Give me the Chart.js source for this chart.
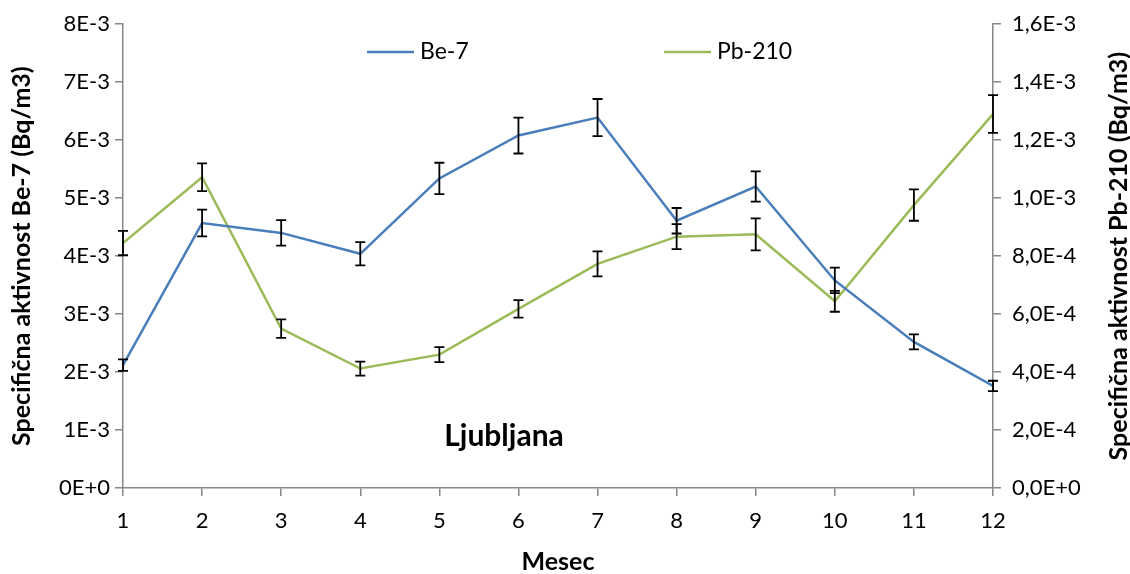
<!DOCTYPE html>
<html>
<head>
<meta charset="utf-8">
<script src="https://cdn.jsdelivr.net/npm/chart.js@4/dist/chart.umd.min.js"></script>
<style>
  html, body { margin: 0; padding: 0; background: #fff; }
  #wrap { width: 1130px; height: 574px; }
</style>
</head>
<body>
<div id="wrap"><canvas id="chart" width="1130" height="574"></canvas></div>
<script>
const months = [1, 2, 3, 4, 5, 6, 7, 8, 9, 10, 11, 12];
const be7 = [2.12e-3, 4.57e-3, 4.40e-3, 4.04e-3, 5.34e-3, 6.08e-3, 6.39e-3, 4.61e-3, 5.20e-3, 3.58e-3, 2.52e-3, 1.76e-3];
const be7Err = [0.10e-3, 0.23e-3, 0.22e-3, 0.20e-3, 0.27e-3, 0.31e-3, 0.32e-3, 0.22e-3, 0.26e-3, 0.22e-3, 0.13e-3, 0.09e-3];
const pb210 = [8.45e-4, 10.72e-4, 5.50e-4, 4.12e-4, 4.60e-4, 6.18e-4, 7.73e-4, 8.67e-4, 8.75e-4, 6.44e-4, 9.76e-4, 12.9e-4];
const pb210Err = [0.42e-4, 0.48e-4, 0.32e-4, 0.24e-4, 0.26e-4, 0.30e-4, 0.43e-4, 0.43e-4, 0.55e-4, 0.36e-4, 0.54e-4, 0.65e-4];

const FONT = "Lato, 'Liberation Sans', sans-serif";
const AXIS_GREY = "#868686";

// error bars drawn through the dataset's own y scale
const errorBars = {
  id: "errorBars",
  afterDatasetsDraw(chart) {
    const ctx = chart.ctx;
    const xScale = chart.scales.x;
    chart.data.datasets.forEach((ds) => {
      const yScale = chart.scales[ds.yAxisID];
      ctx.save();
      ctx.strokeStyle = "#000";
      ctx.lineWidth = 1.8;
      ds.data.forEach((pt, i) => {
        const err = ds.errors[i];
        const x = xScale.getPixelForValue(pt.x);
        const yTop = yScale.getPixelForValue(pt.y + err);
        const yBot = yScale.getPixelForValue(pt.y - err);
        ctx.beginPath();
        ctx.moveTo(x, yTop);
        ctx.lineTo(x, yBot);
        ctx.moveTo(x - 5, yTop);
        ctx.lineTo(x + 5, yTop);
        ctx.moveTo(x - 5, yBot);
        ctx.lineTo(x + 5, yBot);
        ctx.stroke();
      });
      ctx.restore();
    });
  },
};

// legend, inner label and right axis title
const extras = {
  id: "extras",
  afterDraw(chart) {
    const ctx = chart.ctx;
    const area = chart.chartArea;
    ctx.save();
    ctx.textBaseline = "middle";
    ctx.font = "23px " + FONT;
    ctx.fillStyle = "#000";

    const items = [
      { ds: chart.data.datasets[0], x: area.left + 244 },
      { ds: chart.data.datasets[1], x: area.left + 541 },
    ];
    items.forEach((it) => {
      ctx.strokeStyle = it.ds.borderColor;
      ctx.lineWidth = 2.5;
      ctx.beginPath();
      ctx.moveTo(it.x, 52);
      ctx.lineTo(it.x + 47, 52);
      ctx.stroke();
      ctx.textAlign = "left";
      ctx.fillText(it.ds.label, it.x + 53, 52);
    });

    ctx.font = "bold 30px " + FONT;
    ctx.textAlign = "center";
    ctx.fillText("Ljubljana", 504, 436);

    ctx.font = "bold 25px " + FONT;
    ctx.translate(1119, (area.top + area.bottom) / 2);
    ctx.rotate(-Math.PI / 2);
    ctx.fillText("Specifična aktivnost Pb-210 (Bq/m3)", 0, 0);
    ctx.restore();
  },
};

const ctx = document.getElementById("chart").getContext("2d");

const chart = new Chart(ctx, {
  type: "line",
  data: {
    datasets: [
      {
        label: "Be-7",
        data: months.map((m, i) => ({ x: m, y: be7[i] })),
        errors: be7Err,
        yAxisID: "y",
        borderColor: "#4A7EBB",
        borderWidth: 2.5,
        pointRadius: 0,
        tension: 0,
      },
      {
        label: "Pb-210",
        data: months.map((m, i) => ({ x: m, y: pb210[i] })),
        errors: pb210Err,
        yAxisID: "y1",
        borderColor: "#9BBB59",
        borderWidth: 2.5,
        pointRadius: 0,
        tension: 0,
      },
    ],
  },
  options: {
    responsive: false,
    animation: false,
    layout: {
      padding: { top: 22, left: 0, right: 0, bottom: 0 },
    },
    plugins: {
      legend: { display: false },
      tooltip: { enabled: false },
    },
    scales: {
      x: {
        type: "linear",
        min: 1,
        max: 12,
        afterFit: (scale) => { scale.height = 86; },
        ticks: {
          stepSize: 1,
          color: "#000",
          font: { family: FONT, size: 22 },
          padding: 12,
        },
        grid: { drawOnChartArea: false, tickLength: 8, color: AXIS_GREY, lineWidth: 1.5 },
        border: { color: AXIS_GREY, width: 1.5 },
        title: {
          display: true,
          text: "Mesec",
          color: "#000",
          font: { family: FONT, size: 25, weight: "bold", lineHeight: 1.0 },
          padding: { top: 0, bottom: 0 },
        },
      },
      y: {
        position: "left",
        min: 0,
        max: 0.008,
        afterFit: (scale) => { scale.width = 123; },
        ticks: {
          stepSize: 0.001,
          color: "#000",
          font: { family: FONT, size: 22 },
          padding: 5,
          callback: (v) => v.toExponential(0).replace("e", "E"),
        },
        grid: { drawOnChartArea: false, tickLength: 8, color: AXIS_GREY, lineWidth: 1.5 },
        border: { color: AXIS_GREY, width: 1.5 },
        title: {
          display: true,
          text: "Specifična aktivnost Be-7 (Bq/m3)",
          color: "#000",
          font: { family: FONT, size: 25, weight: "bold" },
          padding: { top: 7, bottom: 0 },
        },
      },
      y1: {
        position: "right",
        min: 0,
        max: 0.0016,
        afterFit: (scale) => { scale.width = 137; },
        ticks: {
          stepSize: 0.0002,
          color: "#000",
          font: { family: FONT, size: 22 },
          padding: 11,
          callback: (v) => v.toExponential(1).replace(".", ",").replace("e", "E"),
        },
        grid: { drawOnChartArea: false, tickLength: 8, color: AXIS_GREY, lineWidth: 1.5 },
        border: { color: AXIS_GREY, width: 1.5 },
      },
    },
  },
  plugins: [errorBars, extras],
});
</script>
</body>
</html>
